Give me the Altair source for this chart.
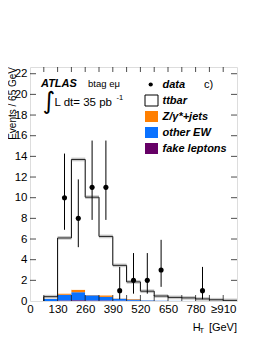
import altair as alt
import pandas as pd

# ---- data ----
bin_lo = [65, 130, 195, 260, 325, 390, 455, 520, 585, 650, 715, 780, 845, 910]
bin_width = 65
total_mc = [0.42, 6.1, 13.7, 10.05, 6.25, 3.45, 1.85, 0.95, 0.48, 0.35, 0.3, 0.2, 0.12, 0.06]
zjets    = [0.02, 0.12, 0.25, 0.03, 0.15, 0.03, 0.06, 0.01, 0.0, 0.0, 0.0, 0.0, 0.0, 0.0]
other_ew = [0.2, 0.55, 0.78, 0.5, 0.35, 0.2, 0.12, 0.06, 0.04, 0.03, 0.02, 0.01, 0.01, 0.01]
fake     = [0.0, 0.05, 0.07, 0.05, 0.05, 0.03, 0.02, 0.01, 0.01, 0.0, 0.0, 0.0, 0.0, 0.0]
mc_unc = 0.18

data_bin_lo = [130, 195, 260, 325, 390, 455, 520, 585, 780]
data_n      = [10, 8, 11, 11, 1, 2, 2, 3, 1]
data_low    = [6.89, 5.21, 7.85, 7.85, 0.17, 0.71, 0.71, 1.37, 0.17]
data_high   = [14.27, 11.77, 15.53, 15.53, 3.30, 4.64, 4.64, 5.92, 3.30]

x_labels = ["0", "130", "260", "390", "520", "650", "780", "≥910"]
x_label_vals = [0, 130, 260, 390, 520, 650, 780, 910]
y_label_vals = [0, 2, 4, 6, 8, 10, 12, 14, 16, 18, 20, 22]

components = ["fake leptons", "other EW", "Z/γ*+jets", "ttbar"]
colors = ["#660066", "#0a72ff", "#ff7f00", "#ffffff"]

W, H = 207, 234
XMAX, YMAX = 975, 22.65
FONT = "Liberation Sans"

# ---- build tables ----
rows = []
for i, lo in enumerate(bin_lo):
    base = 0.0
    vals = [fake[i], other_ew[i], zjets[i], total_mc[i] - fake[i] - other_ew[i] - zjets[i]]
    for c, v in zip(components, vals):
        rows.append({"lo": lo, "hi": lo + bin_width, "y0": base, "y1": base + v, "comp": c})
        base += v
stack_df = pd.DataFrame(rows)

step_x = [bin_lo[0]] + bin_lo + [bin_lo[-1] + bin_width]
step_y = [0.0] + total_mc + [total_mc[-1]]
step_df = pd.DataFrame({"x": step_x, "y": step_y, "o": list(range(len(step_x)))})

band_df = pd.DataFrame({"lo": bin_lo, "hi": [b + bin_width for b in bin_lo],
                        "y0": [max(t - mc_unc, 0) for t in total_mc],
                        "y1": [t + mc_unc for t in total_mc]})

data_df = pd.DataFrame({"x": [b + bin_width / 2 for b in data_bin_lo], "n": data_n,
                        "lo": data_low, "hi": data_high})

xs = alt.Scale(domain=[0, XMAX], nice=False, zero=False)
ys = alt.Scale(domain=[0, YMAX], nice=False, zero=False)

label_expr = " : ".join(
    [f"datum.value == {v} ? '{t}'" for v, t in zip(x_label_vals, x_labels)]) + " : ''"

x_axis = alt.Axis(values=x_label_vals, labelExpr=label_expr, ticks=False, domain=False,
                  grid=False, title=None, labelFont=FONT, labelFontSize=11.5,
                  labelColor="black", labelPadding=2, labelFlush=False, labelOverlap=False)
y_axis = alt.Axis(values=y_label_vals, ticks=False, domain=False, grid=False, title=None,
                  labelFont=FONT, labelFontSize=11.5, labelColor="black", labelPadding=3,
                  labelOverlap=False)


def X(f):
    return alt.X(f, scale=xs, axis=x_axis)


def Y(f):
    return alt.Y(f, scale=ys, axis=y_axis)


bars = alt.Chart(stack_df).mark_rect(strokeWidth=0).encode(
    x=X("lo:Q"), x2="hi:Q", y=Y("y0:Q"), y2="y1:Q",
    color=alt.Color("comp:N", scale=alt.Scale(domain=components, range=colors), legend=None),
)

band = alt.Chart(band_df).mark_rect(color="#666666", opacity=0.35).encode(
    x=X("lo:Q"), x2="hi:Q", y=Y("y0:Q"), y2="y1:Q")

step = alt.Chart(step_df).mark_line(interpolate="step-after", color="black", strokeWidth=1).encode(
    x=X("x:Q"), y=Y("y:Q"), order="o:Q")

err = alt.Chart(data_df).mark_rule(color="black", strokeWidth=1).encode(
    x=X("x:Q"), y=Y("lo:Q"), y2="hi:Q")
pts = alt.Chart(data_df).mark_circle(color="black", opacity=1, size=26).encode(
    x=X("x:Q"), y=Y("n:Q"))

# inward ticks
xt_df = pd.DataFrame({"v": bin_lo})
yt_df = pd.DataFrame({"v": y_label_vals[1:]})
xt_top = alt.Chart(xt_df).mark_tick(color="black", size=5, thickness=1, orient="vertical").encode(
    x=X("v:Q"), y=alt.value(2.5))
xt_bot = alt.Chart(xt_df).mark_tick(color="black", size=6, thickness=1, orient="vertical").encode(
    x=X("v:Q"), y=alt.value(H - 3))
yt_l = alt.Chart(yt_df).mark_tick(color="black", size=6, thickness=1, orient="horizontal").encode(
    y=Y("v:Q"), x=alt.value(3))
yt_r = alt.Chart(yt_df).mark_tick(color="black", size=6, thickness=1, orient="horizontal").encode(
    y=Y("v:Q"), x=alt.value(W - 3))

one = pd.DataFrame({"a": [0]})


def txt(s, x, y, size=11, weight="normal", style="normal", align="left", font=FONT,
        color="black", angle=0):
    return alt.Chart(one).mark_text(text=s, font=font, fontSize=size, fontWeight=weight,
                                    fontStyle=style, align=align, baseline="middle",
                                    color=color, angle=angle).encode(
        x=alt.value(x), y=alt.value(y))


def box(x, y, fill, stroke=None):
    kw = dict(fill=fill)
    if stroke:
        kw.update(stroke=stroke, strokeWidth=1)
    return alt.Chart(one).mark_rect(**kw).encode(
        x=alt.value(x), x2=alt.value(x + 13), y=alt.value(y - 5.5), y2=alt.value(y + 5.5))


ann = [
    txt("Events / 65 GeV", -17, 0, size=10, align="right", angle=270),
    txt("ATLAS", 11, 16.5, size=11, weight="bold", style="italic"),
    txt("btag eμ", 58, 16.5, size=9.5),
    txt("∫", 19, 34.5, size=24, align="center", font="DejaVu Sans"),
    txt("L dt= 35 pb", 24.5, 35.5, size=11.5),
    txt("-1", 86.5, 30.5, size=7.5),
    alt.Chart(one).mark_circle(color="black", opacity=1, size=18).encode(
        x=alt.value(120.7), y=alt.value(17.5)),
    txt("data", 132.5, 17.5, weight="bold", style="italic"),
    txt("c)", 174, 17.5, size=11),
    box(115, 33.5, "white", "black"),
    txt("ttbar", 132.5, 33.5, weight="bold", style="italic"),
    box(115, 49.5, colors[2]),
    txt("Z/γ*+jets", 132.5, 49.5, weight="bold", style="italic"),
    box(115, 65.5, colors[1]),
    txt("other EW", 132.5, 65.5, weight="bold", style="italic"),
    box(115, 81.5, colors[0]),
    txt("fake leptons", 132.5, 81.5, weight="bold", style="italic"),
    txt("[GeV]", W, 261, size=11, align="right"),
    txt("T", 169.5, 264, size=7.5),
    txt("H", 162.7, 261, size=11),
]

chart = alt.layer(bars, step, band, err, pts, xt_top, xt_bot, yt_l, yt_r, *ann).properties(
    width=W, height=H,
    autosize=alt.AutoSizeParams(type="none"),
    padding={"left": 22, "top": 59, "right": 25, "bottom": 40},
).configure_view(stroke="black", strokeWidth=1).configure(background="white")

chart.save("out.html", embed_options={"renderer": "svg", "actions": False})
